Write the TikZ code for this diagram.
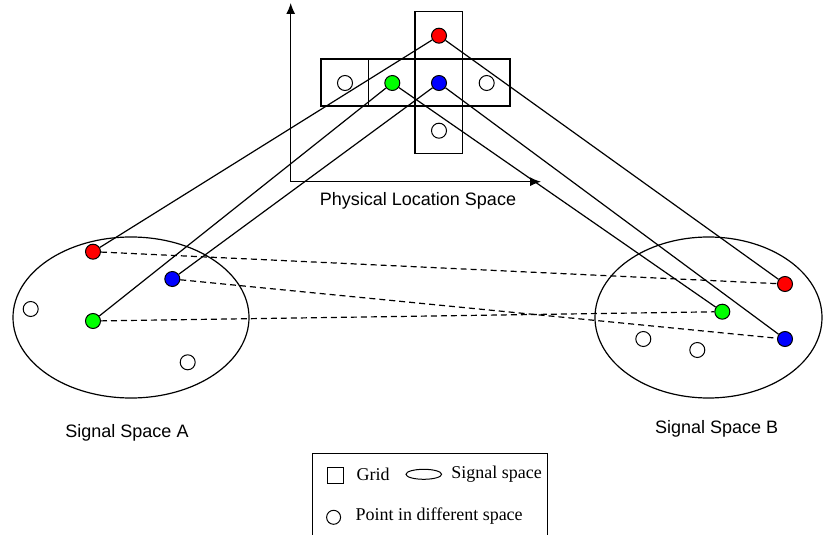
\documentclass[tikz,border=0pt]{standalone}
\usepackage{fontspec}
\setmainfont{Liberation Serif}
\newfontfamily\arialfont{Liberation Sans}
\usetikzlibrary{arrows.meta}
\begin{document}
\begin{tikzpicture}[x=1pt,y=-1pt,line width=1.2pt,
  dot/.style={circle,draw,inner sep=0pt,minimum size=15pt,line width=1pt},
  reddot/.style={dot,fill=red},
  greendot/.style={dot,fill=green},
  bluedot/.style={dot,fill=blue},
  emptydot/.style={dot,fill=white},
  cell/.style={draw,line width=1.2pt},
  link/.style={draw,line width=1.2pt},
  dashlink/.style={draw,dashed,dash pattern=on 6pt off 4pt,line width=1.2pt},
  sanslabel/.style={font=\arialfont\fontsize{18}{21}\selectfont,inner sep=0pt},
  legendtext/.style={font=\fontsize{18}{21}\selectfont,inner sep=0pt,anchor=west}]
\useasboundingbox (0,0) rectangle (823,535);

% physical location axes
\coordinate (origin) at (290.7,181.7);
\coordinate (yend) at (290.7,3);
\coordinate (xend) at (541,181.7);
\draw[-{Latex[length=11pt,width=9pt]}] (origin) -- (yend);
\draw[-{Latex[length=11pt,width=9pt]}] (origin) -- (xend);
\node[sanslabel] (physlabel) at (418,201) {Physical Location Space};

% grid cells (cross shape)
\draw[cell] (415,11.7) rectangle (462.7,59);
\draw[cell] (321,59) rectangle (368.3,106);
\draw[cell] (368.3,59) rectangle (415,106);
\draw[cell] (415,59) rectangle (462.7,106);
\draw[cell] (462.7,59) rectangle (510,106);
\draw[cell] (415,106) rectangle (462.7,153.3);

% signal spaces
\draw (131,317.5) ellipse [x radius=118, y radius=80.5];
\draw (708.5,317.5) ellipse [x radius=113.5, y radius=80.5];
\node[sanslabel] (labelA) at (127,433) {Signal Space A};
\node[sanslabel] (labelB) at (716.7,428.5) {Signal Space B};

% grid points
\node[reddot] (gr) at (439,35.7) {};
\node[greendot] (gg) at (392.3,83) {};
\node[bluedot] (gb) at (439,83) {};
\node[emptydot] (ge1) at (345,83) {};
\node[emptydot] (ge2) at (486.7,83) {};
\node[emptydot] (ge3) at (439,130.7) {};

% signal space A points
\node[reddot] (ar) at (93,251.7) {};
\node[bluedot] (ab) at (172.3,279) {};
\node[greendot] (ag) at (93,321) {};
\node[emptydot] (ae1) at (30.7,309) {};
\node[emptydot] (ae2) at (187.7,362.3) {};

% signal space B points
\node[reddot] (br) at (785,284) {};
\node[greendot] (bg) at (722.3,311.7) {};
\node[bluedot] (bb) at (785,339) {};
\node[emptydot] (be1) at (643.3,339) {};
\node[emptydot] (be2) at (697.3,350) {};

% mapping between physical and signal spaces
\draw[link] (gr) -- (ar);
\draw[link] (gr) -- (br);
\draw[link] (gg) -- (ag);
\draw[link] (gg) -- (bg);
\draw[link] (gb) -- (ab);
\draw[link] (gb) -- (bb);

% correspondence between the two signal spaces
\draw[dashlink] (ar) -- (br);
\draw[dashlink] (ab) -- (bb);
\draw[dashlink] (ag) -- (bg);

% legend
\draw (312.3,453.3) rectangle (547.3,545);
\node[draw,minimum size=16pt,inner sep=0pt,line width=1pt] (legsq) at (335.5,475.3) {};
\node[legendtext] (leggrid) at (356,474) {Grid};
\draw[line width=1pt] (423.8,474.3) ellipse [x radius=17.8, y radius=5];
\node[legendtext] (legsig) at (450.7,474) {Signal space};
\node[circle,draw,inner sep=0pt,minimum size=14pt,line width=1pt] (legpt) at (333.6,517.3) {};
\node[legendtext] (legpoint) at (355,516) {Point in different space};
\end{tikzpicture}
\end{document}
